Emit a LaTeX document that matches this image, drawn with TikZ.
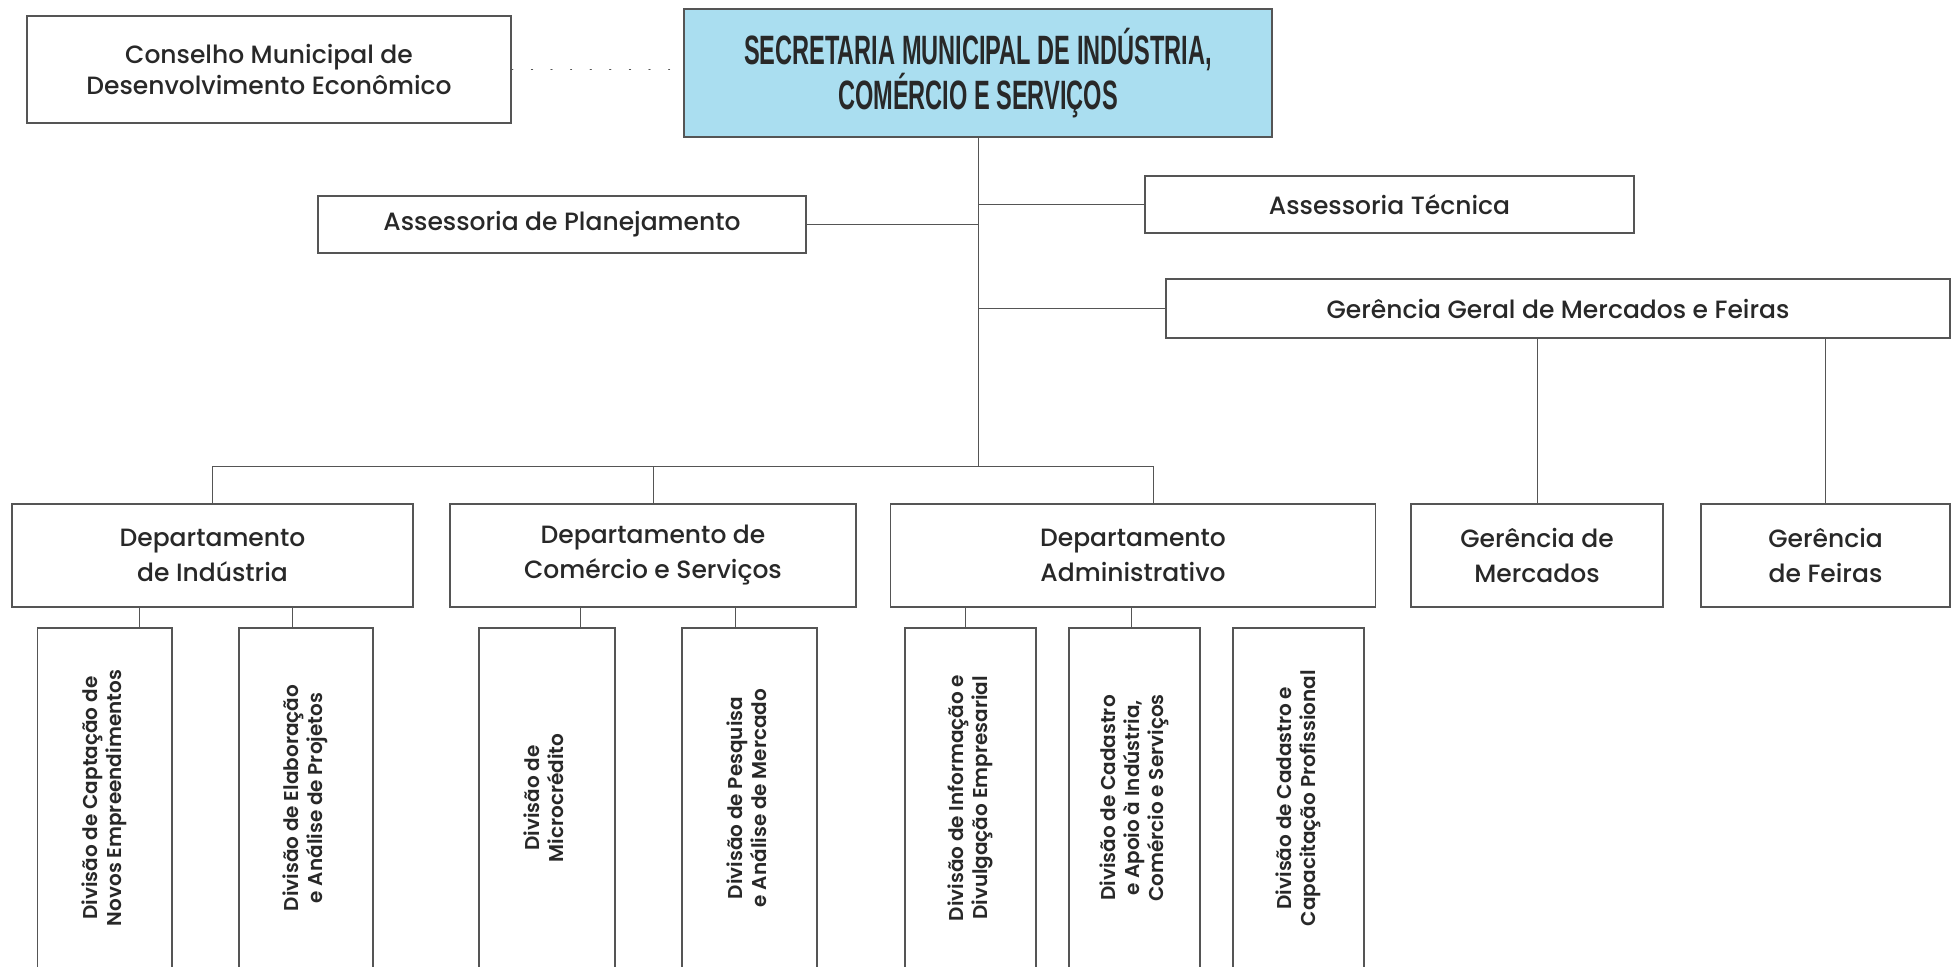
\documentclass[tikz,border=0pt]{standalone}
\usepackage{fontspec}
\IfFontExistsTF{Poppins Medium}{\setmainfont{Poppins Medium}}{\setmainfont{Poppins}}
\IfFontExistsTF{Poppins SemiBold}{\newfontfamily\divfont{Poppins SemiBold}}{\newfontfamily\divfont{Poppins}}
\newfontfamily\titlefont[FakeStretch=0.575]{Liberation Sans}
\usepackage{tikz}
\usetikzlibrary{calc, positioning}
\definecolor{secblue}{RGB}{170,222,240}
\definecolor{boxline}{RGB}{85,85,85}
\definecolor{txtgray}{RGB}{40,40,40}
\tikzstyle{block} = [rectangle, draw=boxline, line width=0.7pt, inner sep=0pt, text centered, text=txtgray, align=center, font={\fontsize{12.5}{15.5}\selectfont}]
\tikzstyle{head} = [block, fill=secblue, font={\titlefont\bfseries\fontsize{20.5}{18.5}\selectfont}]
\tikzstyle{dept} = [block, minimum height=51.5pt, font={\fontsize{12.5}{17.5}\selectfont}]
\tikzstyle{division} = [block, minimum height=170pt, font={\divfont\fontsize{10}{12}\selectfont}]
\tikzstyle{link} = [draw=boxline, line width=0.5pt]
\tikzstyle{dotline} = [link, dash pattern=on 0.6pt off 9.2pt, line cap=round]
\newcommand{\vtext}[1]{\rotatebox{90}{\begin{tabular}{@{}c@{}}#1\end{tabular}}}

\begin{document}
\begin{tikzpicture}[x=0.5pt, y=-0.5pt]
		\useasboundingbox (0,0) rectangle (1953,966);
		\clip (0,0) rectangle (1953,966);
		% topo
		\node (Secretaria) [head, minimum width=294pt, minimum height=64pt] at (978,73) {SECRETARIA MUNICIPAL DE INDÚSTRIA,\\COMÉRCIO E SERVIÇOS};
		\node (Conselho) [block, minimum width=242pt, minimum height=53.5pt] at (269,69.5) {Conselho Municipal de\\Desenvolvimento Econômico};
		\node (Planejamento) [block, minimum width=244pt, minimum height=28.5pt] at (562,224.5) {Assessoria de Planejamento};
		\node (Tecnica) [block, minimum width=244.5pt, minimum height=28.5pt] at (1389.5,204.5) {Assessoria Técnica};
		\node (GerenciaGeral) [block, minimum width=392pt, minimum height=29.5pt] at (1558,308.5) {Gerência Geral de Mercados e Feiras};
		% departamentos
		\node (DeptIndustria) [dept, minimum width=200.5pt] at (212.5,555.5) {Departamento\\de Indústria};
		\node (DeptComercio) [dept, minimum width=203pt] at (653,555.5) {Departamento de\\Comércio e Serviços};
		\node (DeptAdm) [dept, minimum width=242.5pt] at (1133,555.5) {Departamento\\Administrativo};
		\node (GerMercados) [dept, minimum width=126pt] at (1537,555.5) {Gerência de\\Mercados};
		\node (GerFeiras) [dept, minimum width=124.5pt] at (1825.5,555.5) {Gerência\\de Feiras};
		% divisoes
		\node (DivCaptacao) [division, minimum width=67.25pt] at (104.75,798) {\vtext{Divisão de Captação de\\Novos Empreendimentos}};
		\node (DivElaboracao) [division, minimum width=67pt] at (306,798) {\vtext{Divisão de Elaboração\\e Análise de Projetos}};
		\node (DivMicrocredito) [division, minimum width=68pt] at (547,798) {\vtext{Divisão de\\Microcrédito}};
		\node (DivPesquisa) [division, minimum width=67.5pt] at (749.5,798) {\vtext{Divisão de Pesquisa\\e Análise de Mercado}};
		\node (DivInformacao) [division, minimum width=65.5pt] at (970.5,798) {\vtext{Divisão de Informação e\\Divulgação Empresarial}};
		\node (DivApoio) [division, minimum width=65.5pt] at (1134.5,798) {\vtext{Divisão de Cadastro\\e Apoio à Indústria,\\Comércio e Serviços}};
		\node (DivCapacitacao) [division, minimum width=65.5pt] at (1298.5,798) {\vtext{Divisão de Cadastro e\\Capacitação Profissional}};
		% ligacoes
		\coordinate (Junction) at (979,466);
		\draw [dotline] (Conselho.east) -- (Conselho.east -| Secretaria.west);
		\draw [link] (Secretaria.south) -- (Secretaria.south |- Junction);
		\draw [link] (Planejamento.east) -- (Planejamento.east -| Secretaria.south);
		\draw [link] (Tecnica.west) -- (Tecnica.west -| Secretaria.south);
		\draw [link] (GerenciaGeral.west) -- (GerenciaGeral.west -| Secretaria.south);
		\draw [link] (DeptIndustria.north) |- (Junction) -| ([xshift=10pt]DeptAdm.north);
		\draw [link] (DeptComercio.north) -- (DeptComercio.north |- Junction);
		\draw [link] (GerenciaGeral.south -| GerMercados.north) -- (GerMercados.north);
		\draw [link] (GerenciaGeral.south -| GerFeiras.north) -- (GerFeiras.north);
		\draw [link] ([xshift=17.5pt]DivCaptacao.north) -- ([xshift=17.5pt]DivCaptacao.north |- DeptIndustria.south);
		\draw [link] ([xshift=-7pt]DivElaboracao.north) -- ([xshift=-7pt]DivElaboracao.north |- DeptIndustria.south);
		\draw [link] ([xshift=16.5pt]DivMicrocredito.north) -- ([xshift=16.5pt]DivMicrocredito.north |- DeptComercio.south);
		\draw [link] ([xshift=-7pt]DivPesquisa.north) -- ([xshift=-7pt]DivPesquisa.north |- DeptComercio.south);
		\draw [link] ([xshift=-2.75pt]DivInformacao.north) -- ([xshift=-2.75pt]DivInformacao.north |- DeptAdm.south);
		\draw [link] ([xshift=-1.75pt]DivApoio.north) -- ([xshift=-1.75pt]DivApoio.north |- DeptAdm.south);
\end{tikzpicture}
\end{document}
